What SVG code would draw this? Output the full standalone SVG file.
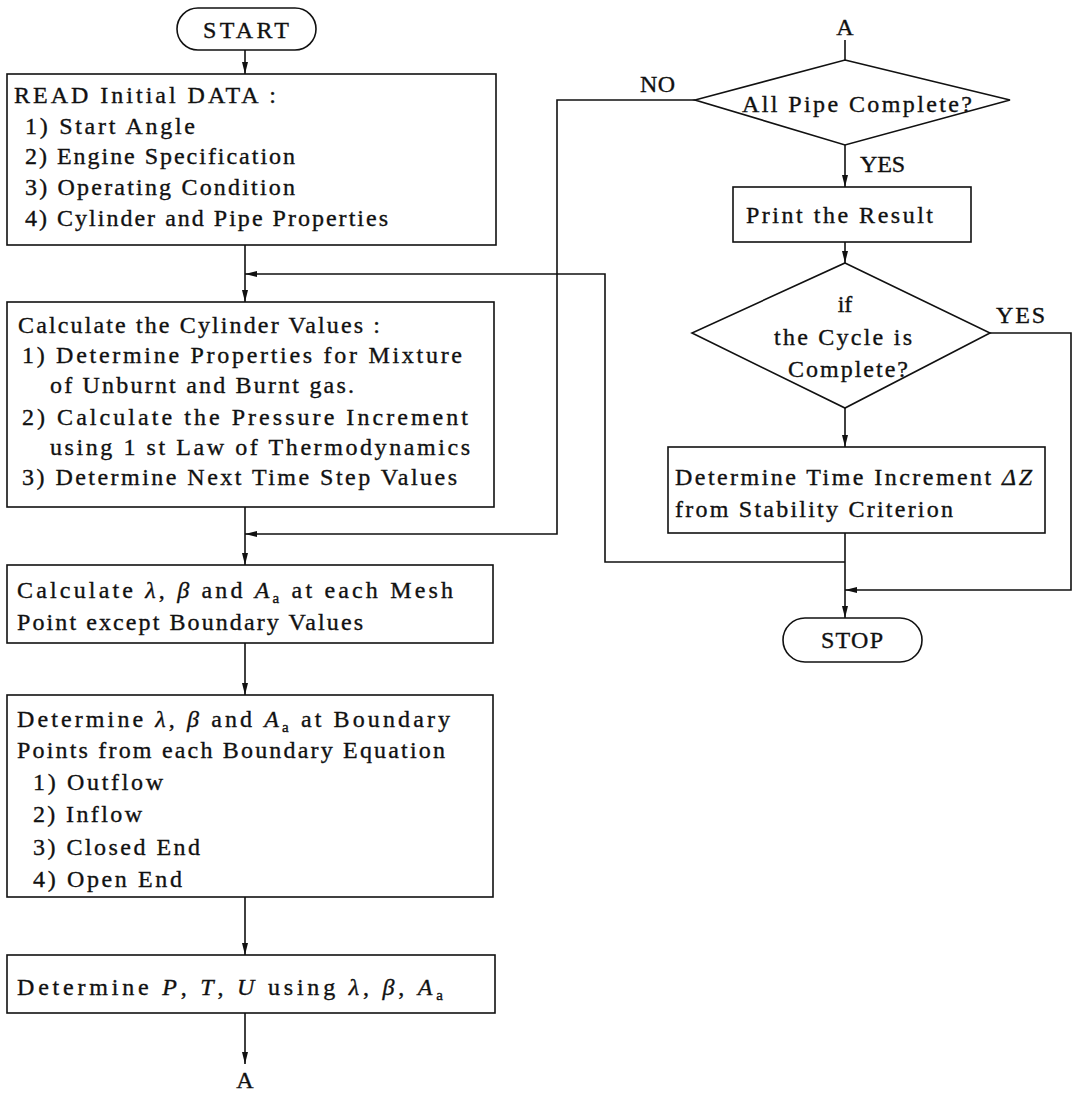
<svg xmlns="http://www.w3.org/2000/svg" width="1077" height="1095" viewBox="0 0 1077 1095">
<style>
  .box{fill:#fff;stroke:#111;stroke-width:1.6}
  .ln{fill:none;stroke:#111;stroke-width:1.6}
  .t{font-family:"Liberation Serif","Times New Roman",serif;font-size:24px;fill:#111;stroke:#111;stroke-width:0.35}
  .c{text-anchor:middle}
  .i{font-style:italic}
  .sub{font-size:15px;font-style:normal}
</style>
<defs>
  <marker id="ah" viewBox="0 0 12 6" refX="12" refY="3" markerWidth="12" markerHeight="6" markerUnits="userSpaceOnUse" orient="auto">
    <path d="M0,0 L12,3 L0,6 z" fill="#111"/>
  </marker>
</defs>
<rect width="1077" height="1095" fill="#fff"/>

<g id="connectors">
  <path class="ln" d="M245,50 V74" marker-end="url(#ah)"/>
  <path class="ln" d="M245,245 V302" marker-end="url(#ah)"/>
  <path class="ln" d="M845,562 H605 V274 H245" marker-end="url(#ah)"/>
  <path class="ln" d="M245,507 V565" marker-end="url(#ah)"/>
  <path class="ln" d="M695,100 H557 V534 H245" marker-end="url(#ah)"/>
  <path class="ln" d="M245,643 V695" marker-end="url(#ah)"/>
  <path class="ln" d="M245,897 V955" marker-end="url(#ah)"/>
  <path class="ln" d="M245,1013 V1064" marker-end="url(#ah)"/>
  <path class="ln" d="M845,40 V60"/>
  <path class="ln" d="M845,145 V187" marker-end="url(#ah)"/>
  <path class="ln" d="M845,242 V263" marker-end="url(#ah)"/>
  <path class="ln" d="M845,408 V447" marker-end="url(#ah)"/>
  <path class="ln" d="M845,533 V618" marker-end="url(#ah)"/>
  <path class="ln" d="M990,333 H1071 V590 H845" marker-end="url(#ah)"/>
  <text class="t" x="640" y="92" textLength="35">NO</text>
  <text class="t" x="860" y="172" textLength="45">YES</text>
  <text class="t" x="996" y="323" textLength="49">YES</text>
  <text class="t c" x="245" y="1088">A</text>
  <text class="t c" x="845" y="35">A</text>
</g>

<g id="start">
  <rect class="box" x="177" y="8" width="139" height="42" rx="21"/>
  <text class="t c" x="246" y="38" textLength="86">START</text>
</g>

<g id="read">
  <rect class="box" x="7" y="74" width="489" height="171"/>
  <text class="t" x="14" y="103" textLength="262">READ Initial DATA :</text>
  <text class="t" x="25" y="134" textLength="170">1) Start Angle</text>
  <text class="t" x="25" y="164" textLength="270">2) Engine Specification</text>
  <text class="t" x="25" y="195" textLength="270">3) Operating Condition</text>
  <text class="t" x="25" y="226" textLength="363">4) Cylinder and Pipe Properties</text>
</g>

<g id="cylinder">
  <rect class="box" x="7" y="302" width="487" height="205"/>
  <text class="t" x="18" y="333" textLength="362">Calculate the Cylinder Values :</text>
  <text class="t" x="22" y="363" textLength="440">1) Determine Properties for Mixture</text>
  <text class="t" x="50" y="393" textLength="304">of Unburnt and Burnt gas.</text>
  <text class="t" x="22" y="425" textLength="446">2) Calculate the Pressure Increment</text>
  <text class="t" x="50" y="455" textLength="420">using 1 st Law of Thermodynamics</text>
  <text class="t" x="22" y="485" textLength="435">3) Determine Next Time Step Values</text>
</g>

<g id="mesh">
  <rect class="box" x="7" y="565" width="486" height="78"/>
  <text class="t" x="17" y="598" textLength="436">Calculate <tspan class="i">λ</tspan>, <tspan class="i">β</tspan> and <tspan class="i">A</tspan><tspan class="sub" dy="5">a</tspan><tspan dy="-5"> at each Mesh</tspan></text>
  <text class="t" x="17" y="630" textLength="346">Point except Boundary Values</text>
</g>

<g id="boundary">
  <rect class="box" x="7" y="695" width="486" height="202"/>
  <text class="t" x="17" y="727" textLength="433">Determine <tspan class="i">λ</tspan>, <tspan class="i">β</tspan> and <tspan class="i">A</tspan><tspan class="sub" dy="5">a</tspan><tspan dy="-5"> at Boundary</tspan></text>
  <text class="t" x="17" y="758" textLength="428">Points from each Boundary Equation</text>
  <text class="t" x="33" y="790" textLength="130">1) Outflow</text>
  <text class="t" x="33" y="822" textLength="109">2) Inflow</text>
  <text class="t" x="33" y="855" textLength="167">3) Closed End</text>
  <text class="t" x="33" y="887" textLength="149">4) Open End</text>
</g>

<g id="ptu">
  <rect class="box" x="7" y="955" width="488" height="58"/>
  <text class="t" x="17" y="995" textLength="426">Determine <tspan class="i">P</tspan>, <tspan class="i">T</tspan>, <tspan class="i">U</tspan>  using <tspan class="i">λ</tspan>, <tspan class="i">β</tspan>, <tspan class="i">A</tspan><tspan class="sub" dy="5">a</tspan></text>
</g>

<g id="allpipe">
  <polygon class="box" points="845,60 1010,100 845,145 695,100"/>
  <text class="t" x="742" y="112" textLength="230">All Pipe Complete?</text>
</g>

<g id="print">
  <rect class="box" x="733" y="187" width="238" height="55"/>
  <text class="t" x="746" y="223" textLength="187">Print the Result</text>
</g>

<g id="cycle">
  <polygon class="box" points="845,263 990,333 845,408 692,333"/>
  <text class="t c" x="845" y="312">if</text>
  <text class="t" x="774" y="345" textLength="138">the Cycle is</text>
  <text class="t" x="788" y="377" textLength="120">Complete?</text>
</g>

<g id="timeinc">
  <rect class="box" x="668" y="447" width="377" height="86"/>
  <text class="t" x="675" y="485" textLength="357">Determine Time Increment <tspan class="i">ΔZ</tspan></text>
  <text class="t" x="675" y="517" textLength="278">from Stability Criterion</text>
</g>

<g id="stop">
  <rect class="box" x="783" y="618" width="139" height="44" rx="22"/>
  <text class="t c" x="852" y="648" textLength="62">STOP</text>
</g>
</svg>
